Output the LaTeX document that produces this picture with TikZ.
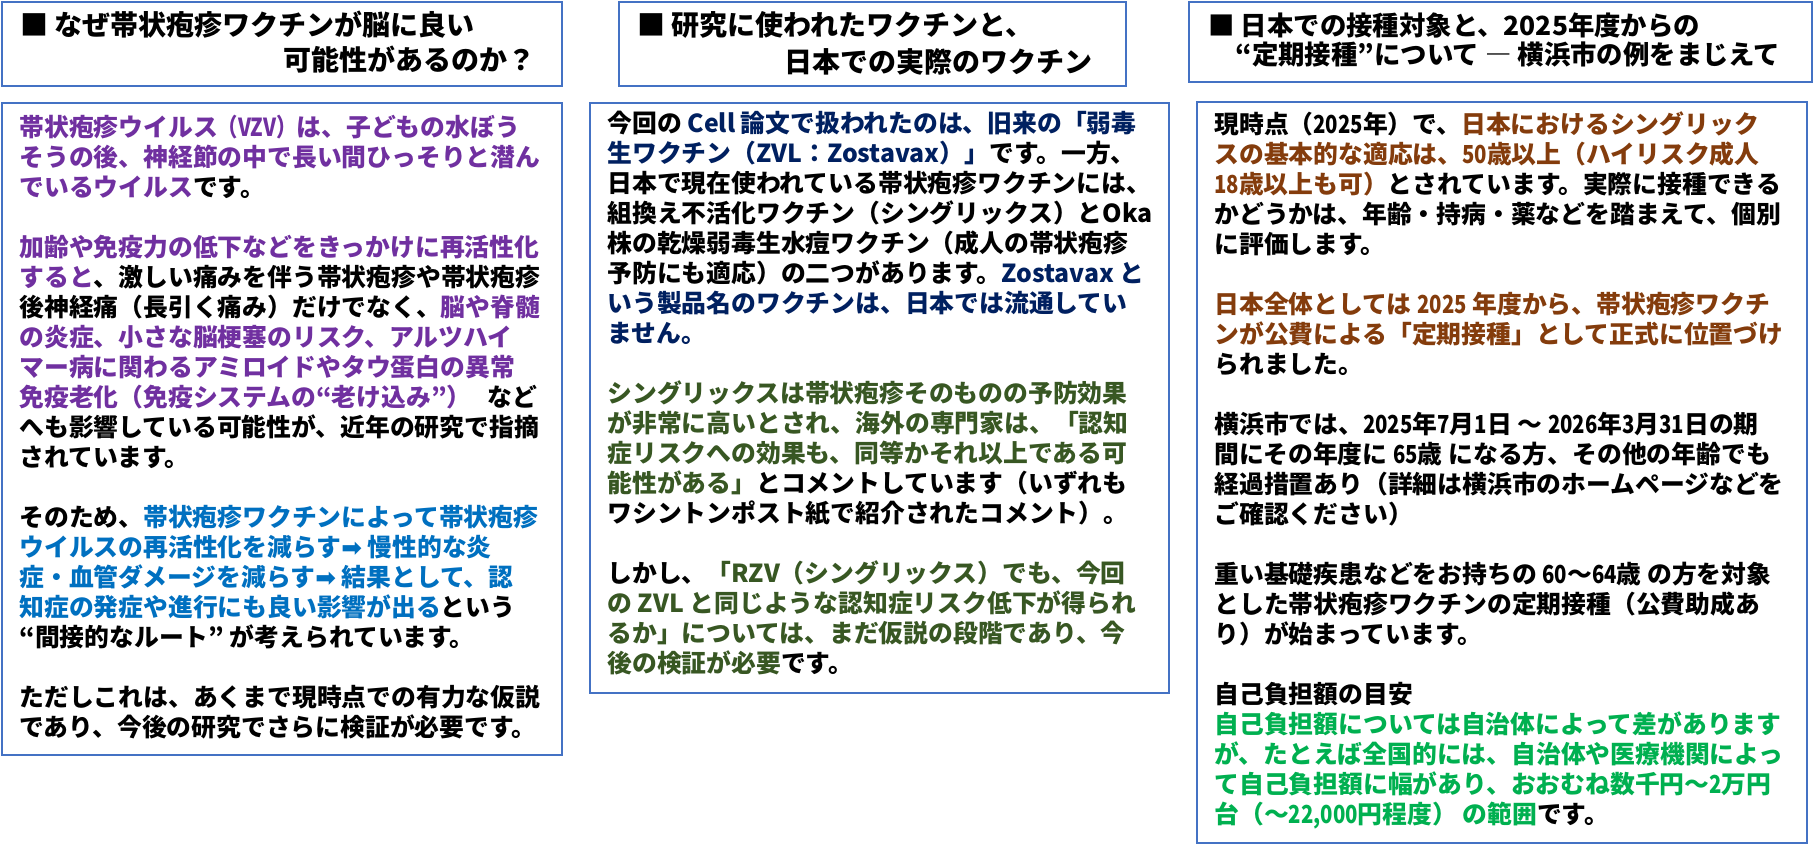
\documentclass[tikz,border=0pt]{standalone}
\usepackage{fontspec}
\setmainfont{Noto Sans CJK JP}
\newfontfamily\arrowfont{DejaVu Sans}
\newfontfamily\narrowdig{Noto Sans CJK JP}[FakeStretch=0.82]
\newcommand\myarr{{\arrowfont\bfseries ➡}}
\newcommand\dg[1]{{\narrowdig\bfseries #1}}
\newcommand\bodyfont{\fontsize{12.4}{15}\selectfont\bfseries}
\newcommand\titlefont{\fontsize{14}{17}\selectfont\bfseries}
\newcommand\titlefontc{\fontsize{13.2}{15}\selectfont\bfseries}
\definecolor{boxblue}{HTML}{4472C4}
\definecolor{vpurple}{HTML}{7030A0}
\definecolor{vblue}{HTML}{0070C0}
\definecolor{vnavy}{HTML}{002060}
\definecolor{vgreen}{HTML}{385723}
\definecolor{vbrown}{HTML}{843C0C}
\definecolor{vlgreen}{HTML}{00B050}
\begin{document}
\begin{tikzpicture}[x=0.5pt,y=-0.5pt,
  panel/.style={draw=boxblue,line width=1pt,fill=white},
  body/.style={anchor=north west,inner sep=0pt,align=left,font=\bodyfont},
  ttl/.style={anchor=west,inner sep=0pt,font=\titlefont},
  ttlc/.style={anchor=west,inner sep=0pt,font=\titlefontc}]
\useasboundingbox[fill=white] (0,0) rectangle (1815,845);
% panels
\draw[panel] (2,2) rectangle (562,86);
\draw[panel] (2,103) rectangle (562,755);
\draw[panel] (619,2) rectangle (1126,86);
\draw[panel] (590,103) rectangle (1169,693);
\draw[panel] (1189,2) rectangle (1812,82);
\draw[panel] (1197,102) rectangle (1807,843);
% titles
\node[ttl] (t1a) at (20,25) {■ なぜ帯状疱疹ワクチンが脳に良い};
\node[ttl] (t1b) at (283,60) {可能性があるのか？};
\node[ttl] (t2a) at (637,25) {■ 研究に使われたワクチンと、};
\node[ttl] (t2b) at (784,62) {日本での実際のワクチン};
\node[ttlc] (t3a) at (1208,25) {■ 日本での接種対象と、2025年度からの};
\node[ttlc] (t3b) at (1235,55) {“定期接種”について ― 横浜市の例をまじえて};
% bodies
\node[body] (b1) at (19,115) {%
\textcolor{vpurple}{帯状疱疹ウイルス\dg{（VZV）}は、子どもの水ぼう}\\%
\textcolor{vpurple}{そうの後、神経節の中で長い間ひっそりと潜ん}\\%
\textcolor{vpurple}{でいるウイルス}です。\\[15pt]%
\textcolor{vpurple}{加齢や免疫力の低下などをきっかけに再活性化}\\%
\textcolor{vpurple}{すると}、激しい痛みを伴う帯状疱疹や帯状疱疹\\%
後神経痛（長引く痛み）だけでなく、\textcolor{vpurple}{脳や脊髄}\\%
\textcolor{vpurple}{の炎症、小さな脳梗塞のリスク、アルツハイ}\\%
\textcolor{vpurple}{マー病に関わるアミロイドやタウ蛋白の異常}\\%
\textcolor{vpurple}{免疫老化（免疫システムの“老け込み”）}\hspace{0.65em}など\\%
へも影響している可能性が、近年の研究で指摘\\%
されています。\\[15pt]%
そのため、\textcolor{vblue}{帯状疱疹ワクチンによって帯状疱疹}\\%
\textcolor{vblue}{ウイルスの再活性化を減らす\myarr{} 慢性的な炎}\\%
\textcolor{vblue}{症・血管ダメージを減らす\myarr{} 結果として、認}\\%
\textcolor{vblue}{知症の発症や進行にも良い影響が出る}という\\%
“間接的なルート” が考えられています。\\[15pt]%
ただしこれは、あくまで現時点での有力な仮説\\%
であり、今後の研究でさらに検証が必要です。};
\node[body] (b2) at (607,111) {%
今回の \textcolor{vnavy}{Cell 論文で扱われたのは、旧来の「弱毒}\\%
\textcolor{vnavy}{生ワクチン（ZVL：Zostavax）」}です。一方、\\%
日本で現在使われている帯状疱疹ワクチンには、\\%
組換え不活化ワクチン（シングリックス）とOka\\%
株の乾燥弱毒生水痘ワクチン（成人の帯状疱疹\\%
予防にも適応）の二つがあります。\textcolor{vnavy}{Zostavax と}\\%
\textcolor{vnavy}{いう製品名のワクチンは、日本では流通してい}\\%
\textcolor{vnavy}{ません。}\\[15pt]%
\textcolor{vgreen}{シングリックスは帯状疱疹そのものの予防効果}\\%
\textcolor{vgreen}{が非常に高いとされ、海外の専門家は、「認知}\\%
\textcolor{vgreen}{症リスクへの効果も、同等かそれ以上である可}\\%
\textcolor{vgreen}{能性がある」}とコメントしています（いずれも\\%
ワシントンポスト紙で紹介されたコメント）。\\[15pt]%
しかし、\textcolor{vgreen}{「RZV（シングリックス）でも、今回}\\%
\textcolor{vgreen}{の ZVL と同じような認知症リスク低下が得られ}\\%
\textcolor{vgreen}{るか」については、まだ仮説の段階であり、今}\\%
\textcolor{vgreen}{後の検証が必要}です。};
\node[body] (b3) at (1214,111) {%
現時点（\dg{2025}年）で、\textcolor{vbrown}{日本におけるシングリック}\\%
\textcolor{vbrown}{スの基本的な適応は、\dg{50}歳以上（ハイリスク成人}\\%
\textcolor{vbrown}{\dg{18}歳以上も可）}とされています。実際に接種できる\\%
かどうかは、年齢・持病・薬などを踏まえて、個別\\%
に評価します。\\[15pt]%
\textcolor{vbrown}{日本全体としては \dg{2025} 年度から、帯状疱疹ワクチ}\\%
\textcolor{vbrown}{ンが公費による「定期接種」として正式に位置づけ}\\%
られました。\\[15pt]%
横浜市では、\dg{2025}年\dg{7}月\dg{1}日 ～ \dg{2026}年\dg{3}月\dg{31}日の期\\%
間にその年度に \dg{65}歳 になる方、その他の年齢でも\\%
経過措置あり（詳細は横浜市のホームページなどを\\%
ご確認ください）\\[15pt]%
重い基礎疾患などをお持ちの \dg{60}～\dg{64}歳 の方を対象\\%
とした帯状疱疹ワクチンの定期接種（公費助成あ\\%
り）が始まっています。\\[15pt]%
自己負担額の目安\\%
\textcolor{vlgreen}{自己負担額については自治体によって差があります}\\%
\textcolor{vlgreen}{が、たとえば全国的には、自治体や医療機関によっ}\\%
\textcolor{vlgreen}{て自己負担額に幅があり、おおむね数千円～\dg{2}万円}\\%
\textcolor{vlgreen}{台（～\dg{22,000}円程度） の範囲}です。};
\end{tikzpicture}
\end{document}
